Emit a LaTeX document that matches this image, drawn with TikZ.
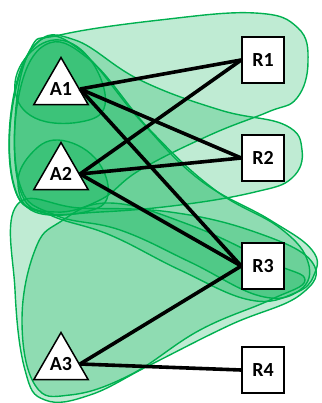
\documentclass[tikz,border=0pt]{standalone}
\usepackage{fontspec}
\setmainfont{Carlito}
\usepackage{tikz}
\usetikzlibrary{shapes.geometric}
\definecolor{hgreen}{RGB}{0,176,80}

\begin{document}
\begin{tikzpicture}[x=1pt, y=-1pt,
    hyper/.style={draw=hgreen, line width=1.4pt, fill=hgreen, fill opacity=0.25},
    agent/.style={draw, line width=1.5pt, fill=white, regular polygon, regular polygon sides=3,
      minimum size=62pt, inner sep=0pt, font=\fontsize{20}{22}\selectfont\bfseries},
    res/.style={draw, line width=1.5pt, fill=white, minimum width=42pt, minimum height=46pt,
      inner sep=0pt, font=\fontsize{20}{22}\selectfont\bfseries},
    link/.style={line width=3.6pt}]
      \useasboundingbox (0,0) rectangle (321,403);
      % hyperedges
      \draw[hyper] plot[smooth cycle, tension=0.7] coordinates {(30,50) (60,35) (160,20) (255,13) (298,28) (308,62) (297,98) (268,112) (210,135) (140,170) (100,200) (55,212) (22,195) (15,120)};
      \draw[hyper] plot[smooth cycle, tension=0.7] coordinates {(35,45) (75,40) (140,80) (220,110) (285,125) (302,150) (292,178) (255,192) (180,205) (100,212) (40,212) (14,185) (12,110)};
      \draw[hyper] plot[smooth cycle, tension=0.7] coordinates {(38,42) (80,50) (140,120) (200,180) (270,220) (312,250) (314,275) (295,293) (250,300) (180,270) (110,235) (50,215) (15,190) (12,105)};
      \draw[hyper] plot[smooth cycle, tension=0.7] coordinates {(45,45) (90,60) (150,130) (215,190) (280,228) (308,262) (300,290) (260,296) (190,262) (120,230) (55,215) (20,185) (18,100)};
      \draw[hyper] plot[smooth cycle, tension=0.7] coordinates {(17,205) (80,208) (170,212) (255,232) (312,262) (300,295) (230,325) (150,365) (90,395) (45,400) (25,370) (15,290)};
      \draw[hyper] plot[smooth cycle, tension=0.7] coordinates {(60,222) (110,203) (190,225) (270,262) (305,280) (270,300) (200,330) (130,375) (70,395) (35,385) (22,320) (35,250)};
      \draw[hyper] plot[smooth cycle, tension=0.7] coordinates {(28,55) (60,40) (92,62) (105,105) (80,122) (35,118) (15,90)};
      \draw[hyper] plot[smooth cycle, tension=0.7] coordinates {(30,155) (58,140) (95,158) (108,195) (85,212) (35,212) (18,185)};
      % agents and resources
      \node[agent] (a1) at (61,89) {A1};
      \node[agent] (a2) at (61,174) {A2};
      \node[agent] (a3) at (61,364) {A3};
      \node[res] (r1) at (263,60) {R1};
      \node[res] (r2) at (263,158) {R2};
      \node[res] (r3) at (263,266) {R3};
      \node[res] (r4) at (263,370) {R4};
      \draw[link] (a1.east) -- (r1.west);
      \draw[link] (a1.east) -- (r2.west);
      \draw[link] (a1.east) -- (r3.west);
      \draw[link] (a2.east) -- (r1.west);
      \draw[link] (a2.east) -- (r2.west);
      \draw[link] (a2.east) -- (r3.west);
      \draw[link] (a3.east) -- (r3.west);
      \draw[link] (a3.east) -- (r4.west);
    \end{tikzpicture}
\end{document}
